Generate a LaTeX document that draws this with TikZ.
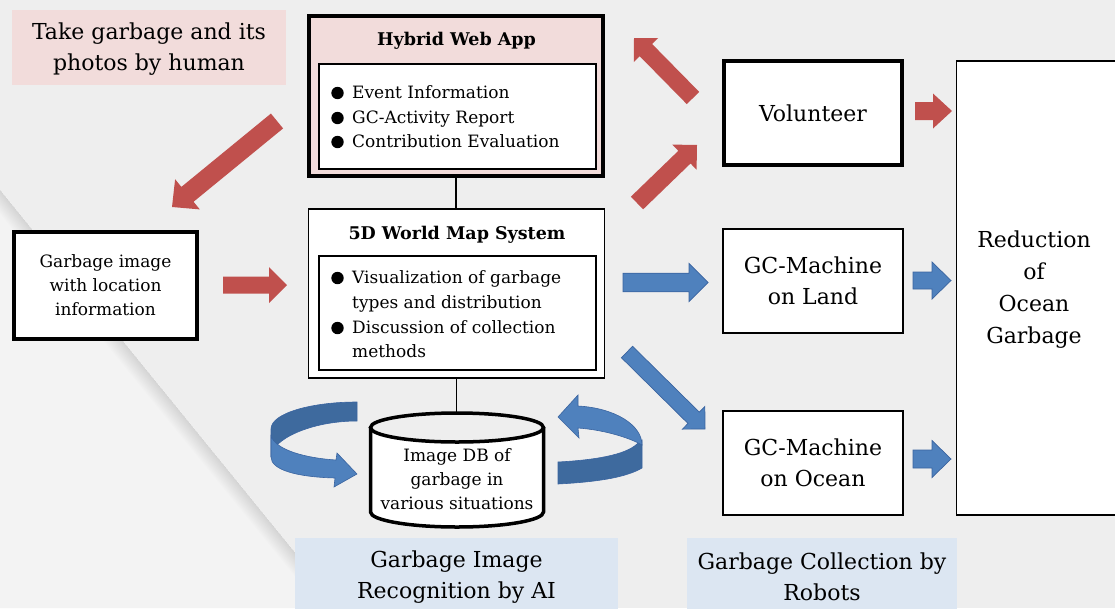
\documentclass[tikz,border=0pt]{standalone}
\usepackage{fontspec}
\setmainfont{DejaVu Serif}
\usetikzlibrary{calc}

\definecolor{paper}{HTML}{EEEEEE}
\definecolor{paperlight}{HTML}{F3F3F3}
\definecolor{pinkfill}{HTML}{F2DCDB}
\definecolor{bluefill}{HTML}{DCE6F2}
\definecolor{arrred}{HTML}{C0504D}
\definecolor{arrblue}{HTML}{4F81BD}
\definecolor{arrbluedark}{HTML}{3E6A9E}
\definecolor{arredge}{HTML}{3A64A0}

% block arrow: #1 style, #2 tail, #3 tip, #4 shaft half width, #5 head half width, #6 head length
\newcommand{\blockarrow}[6]{%
  \coordinate (ba-base) at ($(#3)!#6!(#2)$);
  \path[#1] ($(#2)!#4!90:(#3)$) -- ($(ba-base)!#4!90:(#3)$) -- ($(ba-base)!#5!90:(#3)$)
    -- (#3) -- ($(ba-base)!#5!-90:(#3)$) -- ($(ba-base)!#4!-90:(#3)$)
    -- ($(#2)!#4!-90:(#3)$) -- cycle;
}

\tikzset{
  thickbox/.style={draw=black, line width=4pt, fill=white, inner sep=0pt},
  thinbox/.style={draw=black, line width=1.3pt, fill=white, inner sep=0pt},
  bigtext/.style={font=\fontsize{22}{31}\selectfont, align=center},
  smalltext/.style={font=\fontsize{17}{24}\selectfont, align=center},
  titletext/.style={font=\bfseries\fontsize{17.5}{20}\selectfont, inner sep=0pt},
  itemtext/.style={font=\fontsize{17}{24}\selectfont, anchor=base west, inner sep=0pt},
  bulletdot/.style={fill=black},
  redarrow/.style={fill=arrred},
  bluearrow/.style={fill=arrblue, draw=arredge, line width=0.7pt},
  ringlight/.style={fill=arrblue, draw=arredge, line width=0.6pt},
  ringdark/.style={fill=arrbluedark, draw=arredge, line width=0.6pt},
  link/.style={draw=black, line width=1.2pt},
  labelpink/.style={fill=pinkfill, inner sep=0pt},
  labelblue/.style={fill=bluefill, inner sep=0pt},
}

\begin{document}
\begin{tikzpicture}[x=1pt,y=-1pt]
\useasboundingbox (0,0) rectangle (1115,608);

% paper background with a folded lower-left corner
\fill[paper] (0,0) rectangle (1115,608);
\fill[paperlight] (0,190) -- (340,608) -- (0,608) -- cycle;
\begin{scope}
  \clip (0,190) -- (340,608) -- (0,608) -- cycle;
  \foreach \w in {2,4,...,30} {
    \draw[line width=\w pt, black, opacity=0.006] (0,190) -- (340,608);
  }
\end{scope}

% caption labels
\node[labelpink, minimum width=274pt, minimum height=75pt] (take) at (149,47.5) {};
\node[bigtext] (taketxt) at (149,49.5) {Take garbage and its\\photos by human};

\node[labelblue, minimum width=323pt, minimum height=80pt] (ai) at (456.5,578) {};
\node[bigtext] (aitxt) at (456.5,577) {Garbage Image\\Recognition by AI};

\node[labelblue, minimum width=270pt, minimum height=80pt] (robots) at (822,578) {};
\node[bigtext] (robotstxt) at (822,577) {Garbage Collection by\\Robots};

% Hybrid Web App
\node[thickbox, fill=pinkfill, minimum width=294pt, minimum height=160pt] (hyb) at (456,96) {};
\node[thinbox, minimum width=277pt, minimum height=105pt] (hybin) at (457.5,116.5) {};
\node[titletext] (hybtitle) at (456.5,41) {Hybrid Web App};
\fill[bulletdot] (337.5,93) circle[radius=6.2];
\fill[bulletdot] (337.5,118) circle[radius=6.2];
\fill[bulletdot] (337.5,142) circle[radius=6.2];
\node[itemtext] (hyb1) at (352,98.5) {Event Information};
\node[itemtext] (hyb2) at (352,123.5) {GC-Activity Report};
\node[itemtext] (hyb3) at (352,147.5) {Contribution Evaluation};

% 5D World Map System
\node[thinbox, minimum width=296pt, minimum height=169pt] (map) at (456.5,293.5) {};
\node[thinbox, minimum width=277pt, minimum height=114pt] (mapin) at (457.5,313) {};
\node[titletext] (maptitle) at (457,235) {5D World Map System};
\fill[bulletdot] (337.5,278) circle[radius=6.2];
\fill[bulletdot] (337.5,328) circle[radius=6.2];
\node[itemtext] (map1) at (352,283.5) {Visualization of garbage};
\node[itemtext] (map2) at (352,308.5) {types and distribution};
\node[itemtext] (map3) at (352,333.5) {Discussion of collection};
\node[itemtext] (map4) at (352,357.5) {methods};

% garbage image source
\node[thickbox, smalltext, minimum width=183pt, minimum height=107pt] (gimg) at (105.5,285.5)
  {Garbage image\\with location\\information};

% image database cylinder
\node[inner sep=0pt, minimum width=173pt, minimum height=114pt] (db) at (457,470) {};
\path[fill=white] (370.5,427.5) -- (370.5,512) arc[start angle=180, end angle=0, x radius=86.5, y radius=15]
  -- (543.5,427.5) arc[start angle=0, end angle=180, x radius=86.5, y radius=14.5] -- cycle;
\draw[line width=3.5pt] (370.5,427.5) -- (370.5,512) arc[start angle=180, end angle=0, x radius=86.5, y radius=15]
  -- (543.5,427.5);
\draw[line width=3.5pt] (457,427.5) ellipse[x radius=86.5, y radius=14.5];
\node[smalltext] (dbtxt) at (457,479) {Image DB of\\garbage in\\various situations};

% right column
\node[thickbox, bigtext, minimum width=178pt, minimum height=104pt] (vol) at (813,113) {Volunteer};
\node[thinbox, bigtext, minimum width=180pt, minimum height=104pt] (land) at (813,281) {GC-Machine\\on Land};
\node[thinbox, bigtext, minimum width=180pt, minimum height=104pt] (ocean) at (813,463) {GC-Machine\\on Ocean};
\node[thinbox, minimum width=170pt, minimum height=454pt] (red) at (1041.5,288) {};
\node[font=\fontsize{22}{32}\selectfont, align=center] (redtxt) at (1034,290) {Reduction\\of\\Ocean\\Garbage};

% plain connectors
\draw[link] (hyb.south) -- (hyb.south |- map.north);
\draw[link] (map.south) -- (map.south |- db.north);

% red block arrows
\coordinate (r1s) at (277,121);  \coordinate (r1t) at (172,207);
\coordinate (r2s) at (223,285);  \coordinate (r2t) at (287,285);
\coordinate (r3s) at (693,98);   \coordinate (r3t) at (634,38);
\coordinate (r4s) at (637,203);  \coordinate (r4t) at (697,145);
\coordinate (r5s) at (915,111);  \coordinate (r5t) at (952,111);
\blockarrow{redarrow}{r1s}{r1t}{9.6pt}{19.5pt}{20pt}
\blockarrow{redarrow}{r2s}{r2t}{8.5pt}{18pt}{18pt}
\blockarrow{redarrow}{r3s}{r3t}{8.7pt}{17pt}{17pt}
\blockarrow{redarrow}{r4s}{r4t}{8.8pt}{17.5pt}{17.5pt}
\blockarrow{redarrow}{r5s}{r5t}{9pt}{17.5pt}{19pt}

% blue block arrows
\coordinate (b1s) at (623,282.5); \coordinate (b1t) at (708,282.5);
\coordinate (b2s) at (627,352);   \coordinate (b2t) at (705,429);
\coordinate (b3s) at (913,280.5); \coordinate (b3t) at (951,280.5);
\coordinate (b4s) at (913,459);   \coordinate (b4t) at (951,459);
\blockarrow{bluearrow}{b1s}{b1t}{9.3pt}{19pt}{19pt}
\blockarrow{bluearrow}{b2s}{b2t}{8pt}{16pt}{16pt}
\blockarrow{bluearrow}{b3s}{b3t}{8.5pt}{18.5pt}{19pt}
\blockarrow{bluearrow}{b4s}{b4t}{9pt}{18.5pt}{19pt}

% circular arrows around the database (left)
\path[ringdark] (357,402) .. controls (312,402) and (271,413) .. (271,429)
  -- (271,457) .. controls (271,440) and (310,421) .. (357,421) -- cycle;
\path[ringlight] (271,436) .. controls (276,450) and (305,458) .. (336,460)
  -- (337,453) -- (357,474) -- (334,487) -- (335,478)
  .. controls (297,477) and (271,470) .. (271,457) -- cycle;

% circular arrows around the database (right)
\path[ringdark] (642,440) -- (642,468) .. controls (625,478) and (595,482) .. (558,484)
  -- (558,462) .. controls (595,460) and (625,455) .. (637,444) -- cycle;
\path[ringlight] (578,428) -- (579,438) -- (558,417) -- (578,395) -- (578,406)
  .. controls (615,408) and (642,425) .. (642,445)
  .. controls (630,438) and (605,430) .. (578,428) -- cycle;

\end{tikzpicture}
\end{document}
